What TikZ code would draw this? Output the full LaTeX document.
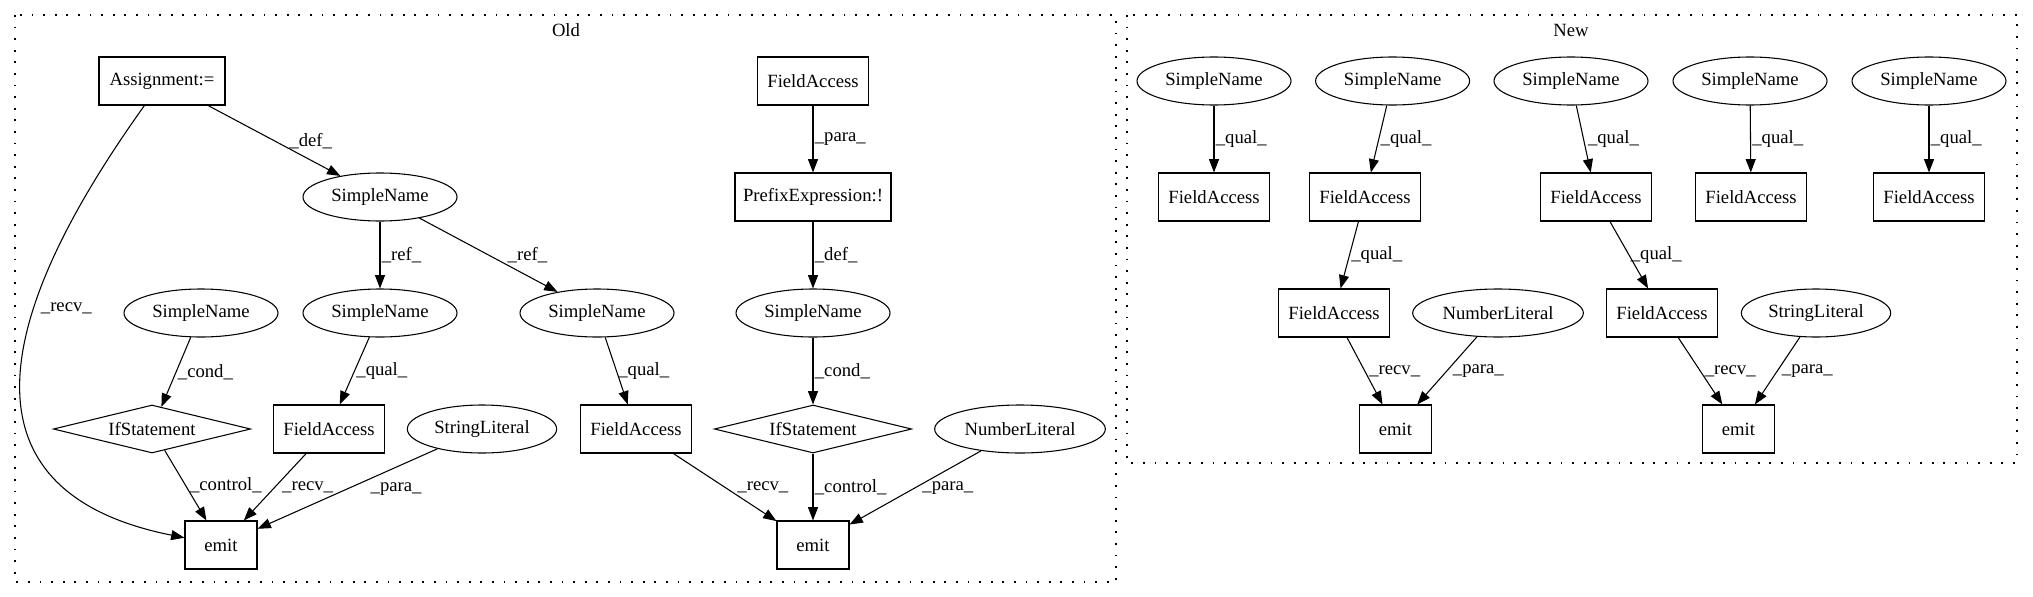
\documentclass[tikz,border=0pt]{standalone}
\usepackage{fontspec}
\setmainfont{Liberation Serif}
\usetikzlibrary{shapes.geometric,arrows.meta}
\begin{document}
\begin{tikzpicture}[x=0.75pt, y=-0.75pt, line width=0.8pt,
    font=\fontsize{14}{16}\selectfont,
    box/.style={draw, rectangle, minimum height=36pt, minimum width=#1, inner sep=2pt},
    box/.default=83pt,
    oval/.style={draw, ellipse, minimum height=36pt, minimum width=#1, inner sep=0pt},
    oval/.default=115.5pt,
    cond/.style={draw, diamond, minimum width=148pt, minimum height=36pt, inner sep=0pt, shape aspect=4},
    arr/.style={-{Triangle[length=10pt,width=7.5pt]}},
    lbl/.style={anchor=west, inner sep=1pt},
    cluster/.style={draw, line width=1pt, dash pattern=on 1.4pt off 7.3pt}]
  \useasboundingbox (0,0) rectangle (2033,596);
  \draw[cluster] (15,15) rectangle (1116,582);
  \draw[cluster] (1127,15) rectangle (2017,463);
  \node (oldT) at (566,30) {Old};
  \node (newT) at (1571,30) {New};

  \node[box=94.5pt] (asg) at (162,81) {Assignment:=};
  \node[oval] (snDef) at (380,197) {SimpleName};
  \node[oval] (snCond) at (201,313) {SimpleName};
  \node[oval] (snRefA) at (380,313) {SimpleName};
  \node[oval] (snRefB) at (597,313) {SimpleName};
  \node[cond] (ifA) at (152,429) {IfStatement};
  \node[box] (faA) at (329,429) {FieldAccess};
  \node[oval=112pt] (strA) at (482,429) {StringLiteral};
  \node[box] (faB) at (636,429) {FieldAccess};
  \node[box=54pt] (emitA) at (221,545) {emit};
  \node[box] (faTop) at (813,81) {FieldAccess};
  \node[box=117pt] (prefix) at (813,197) {PrefixExpression:!};
  \node[oval] (snNeg) at (813,313) {SimpleName};
  \node[cond] (ifB) at (813,429) {IfStatement};
  \node[oval=128pt] (numB) at (1020,429) {NumberLiteral};
  \node[box=54pt] (emitB) at (813,545) {emit};

  \draw[arr] (asg) .. controls (-45,370) and (-5,500) .. (emitA)
        node[lbl, pos=0.3, xshift=4pt] {\_recv\_};
  \draw[arr] (asg) edge node[lbl, xshift=10pt] {\_def\_} (snDef)
        (snDef) edge node[lbl] {\_ref\_} (snRefA)
        (snDef) edge node[lbl, xshift=13pt] {\_ref\_} (snRefB)
        (snCond) edge node[lbl] {\_cond\_} (ifA)
        (snRefA) edge node[lbl] {\_qual\_} (faA)
        (snRefB) edge node[lbl] {\_qual\_} (faB)
        (ifA) edge node[lbl, xshift=2pt] {\_control\_} (emitA)
        (faA) edge node[lbl, xshift=4pt] {\_recv\_} (emitA)
        (strA) edge node[lbl, xshift=16pt] {\_para\_} (emitA);
  \draw[arr] (faTop) edge node[lbl] {\_para\_} (prefix)
        (prefix) edge node[lbl] {\_def\_} (snNeg)
        (snNeg) edge node[lbl] {\_cond\_} (ifB)
        (ifB) edge node[lbl] {\_control\_} (emitB)
        (faB) edge node[lbl, xshift=8pt] {\_recv\_} (emitB)
        (numB) edge node[lbl, xshift=4pt] {\_para\_} (emitB);

  \node[oval] (snA) at (1214,81) {SimpleName};
  \node[oval] (snB) at (1392.6,81) {SimpleName};
  \node[oval] (snC) at (1571,81) {SimpleName};
  \node[oval] (snD) at (1750,81) {SimpleName};
  \node[oval] (snE) at (1929,81) {SimpleName};
  \node[box] (faC) at (1214,197) {FieldAccess};
  \node[box] (faD) at (1365,197) {FieldAccess};
  \node[box] (faE) at (1596,197) {FieldAccess};
  \node[box] (faF) at (1751,197) {FieldAccess};
  \node[box] (faG) at (1929,197) {FieldAccess};
  \node[box] (faH) at (1334,313) {FieldAccess};
  \node[oval=128pt] (numC) at (1498,313) {NumberLiteral};
  \node[box] (faI) at (1662,313) {FieldAccess};
  \node[oval=112pt] (strC) at (1816,313) {StringLiteral};
  \node[box=54pt] (emitC) at (1395.5,429) {emit};
  \node[box=54pt] (emitD) at (1738.5,429) {emit};

  \draw[arr] (snA) edge node[lbl] {\_qual\_} (faC)
        (snB) edge node[lbl] {\_qual\_} (faD)
        (snC) edge node[lbl, xshift=2pt] {\_qual\_} (faE)
        (snD) edge node[lbl] {\_qual\_} (faF)
        (snE) edge node[lbl] {\_qual\_} (faG)
        (faD) edge node[lbl] {\_qual\_} (faH)
        (faE) edge node[lbl] {\_qual\_} (faI)
        (faH) edge node[lbl, xshift=2pt] {\_recv\_} (emitC)
        (numC) edge node[lbl, xshift=3pt] {\_para\_} (emitC)
        (faI) edge node[lbl, xshift=2pt] {\_recv\_} (emitD)
        (strC) edge node[lbl, xshift=2pt] {\_para\_} (emitD);
\end{tikzpicture}
\end{document}
